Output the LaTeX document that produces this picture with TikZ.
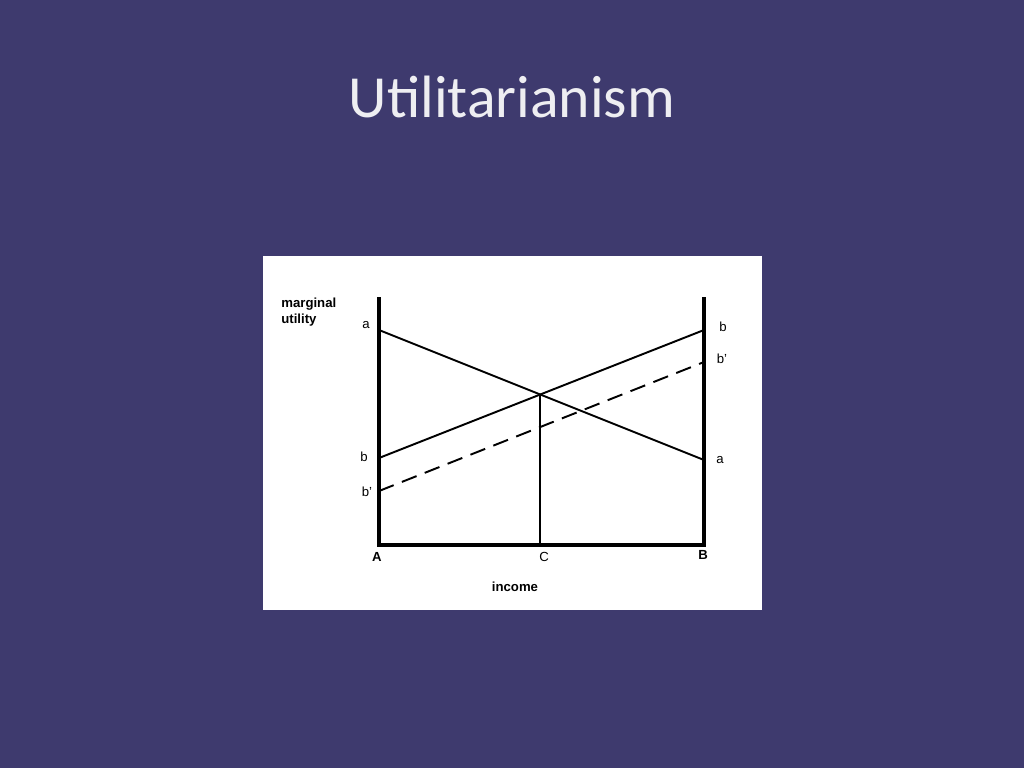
\documentclass[tikz,border=0pt]{standalone}
\usepackage{fontspec}
\setmainfont{Liberation Sans}
\newfontfamily\titlefont{Carlito}
\usepackage{xcolor}
\usetikzlibrary{positioning,calc,intersections}
\definecolor{slidebg}{HTML}{3E3A6E}
\definecolor{titlegray}{HTML}{EEEEF2}
\tikzset{
    axis/.style={line width=2.4pt},
    curve/.style={line width=1.1pt},
    lbl/.style={font=\fontsize{7.5}{8}\selectfont, inner sep=0pt},
    blbl/.style={lbl, font=\fontsize{7.5}{9}\selectfont\bfseries}
}
\begin{document}
\begin{tikzpicture}[x=0.02cm, y=-0.02cm]
    % Slide background and white panel
    \fill[slidebg] (0,0) rectangle (1024,768);
    \useasboundingbox (0,0) rectangle (1024,768);
    \fill[white] (263,256) rectangle (762,610);
    \node[text=titlegray, font=\titlefont\fontsize{34}{40}\selectfont] (title) at (512,97) {Utilitarianism};

    % Axes
    \coordinate (Atop) at (379,297);
    \coordinate (A) at (379,545);
    \coordinate (Btop) at (704,297);
    \coordinate (B) at (704,545);
    \draw[axis] (Atop) -- (A) -- (B) -- (Btop);

    % Marginal utility lines
    \coordinate (aL) at (379,330);
    \coordinate (aR) at (704,460);
    \coordinate (bL) at (379,458);
    \coordinate (bR) at (704,330);
    \coordinate (bpL) at (379,491);
    \coordinate (bpR) at (704,362);
    \draw[curve, name path=linea] (aL) -- (aR);
    \draw[curve, name path=lineb] (bL) -- (bR);
    \draw[curve, dashed, dash pattern=on 9pt off 5pt] (bpL) -- (bpR);
    \path[name intersections={of=linea and lineb, by=X}];
    \coordinate (C) at (X |- A);
    \draw[curve] (X) -- (C);

    % Labels
    \node[lbl] (la) at (366,325) {a};
    \node[lbl] (lb) at (364,457) {b};
    \node[lbl] (lbp) at (367,492) {b'};
    \node[lbl] (rb) at (723,327) {b};
    \node[lbl] (rbp) at (722,359) {b'};
    \node[lbl] (ra) at (720,460) {a};
    \node[blbl] (nA) at (377,557) {A};
    \node[lbl] (nC) at (544,557) {C};
    \node[blbl] (nB) at (703,555) {B};
    \node[blbl] (income) at (515,587) {income};
    \node[blbl, align=left, anchor=north west] (mu) at (281,298) {marginal\\utility};
\end{tikzpicture}
\end{document}
